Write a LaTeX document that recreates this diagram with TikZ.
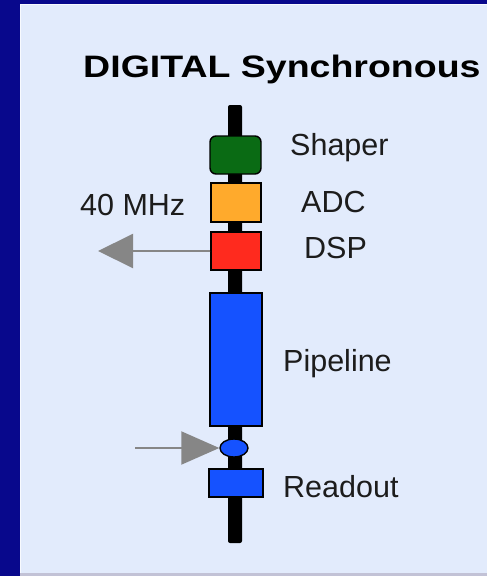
\documentclass[tikz,border=0pt]{standalone}
\usepackage{fontspec}
\setmainfont{Liberation Sans}
\usetikzlibrary{arrows.meta,shapes.geometric}
\definecolor{slideblue}{HTML}{08088C}
\definecolor{panelbg}{HTML}{E2EBFC}
\definecolor{shapergreen}{HTML}{0A6B14}
\definecolor{adcorange}{HTML}{FFAA2C}
\definecolor{dspred}{HTML}{FF2A1E}
\definecolor{pipeblue}{HTML}{1552FF}
\definecolor{labelgrey}{HTML}{1C1C1C}
\tikzset{
  stage/.style={draw=black,line width=1.4pt,inner sep=0pt},
  label/.style={font=\fontsize{30.5}{34}\selectfont,text=labelgrey,anchor=base west,inner sep=0pt},
  flow/.style={draw=gray!95,line width=2pt}
}
\begin{document}
\begin{tikzpicture}[x=1pt,y=-1pt]
\useasboundingbox (0,0) rectangle (487,576);
% slide background and panel
\fill[slideblue] (0,0) rectangle (487,576);
\fill[panelbg] (20,4) rectangle (487,573);
\draw[white!75!panelbg,line width=1pt] (20.5,576) -- (20.5,4.5) -- (487,4.5);
\fill[gray!80!blue!40] (20,573) rectangle (487,576);
% title
\node[font=\bfseries\fontsize{31}{34}\selectfont,anchor=base west,inner sep=0pt,
      xscale=1.21,transform shape] (title) at (83,77) {DIGITAL Synchronous};
% spine behind the stages
\fill[black,rounded corners=2pt] (228,105) rectangle (242,543);
% stages along the chain
\node[stage,fill=shapergreen,rounded corners=6pt,minimum width=51pt,minimum height=38pt] (shaper) at (235.5,155) {};
\node[stage,fill=adcorange,minimum width=50pt,minimum height=39pt] (adc) at (236,202.5) {};
\node[stage,fill=dspred,minimum width=50pt,minimum height=38pt] (dsp) at (236,251) {};
\node[stage,fill=pipeblue,minimum width=52pt,minimum height=133pt] (pipe) at (236,359.5) {};
\node[stage,fill=pipeblue,ellipse,minimum width=28pt,minimum height=18pt] (trig) at (234,448) {};
\node[stage,fill=pipeblue,minimum width=54pt,minimum height=28pt] (readout) at (236,483) {};
% labels
\node[label] (shaperlbl) at (290,155) {Shaper};
\node[label] (adclbl) at (301,212) {ADC};
\node[label] (dsplbl) at (304,258) {DSP};
\node[label] (pipelbl) at (283,371) {Pipeline};
\node[label] (readoutlbl) at (283,497) {Readout};
\node[label] (clocklbl) at (80,215) {40 MHz};
% DSP output and trigger input
\coordinate (dspout) at (98,251);
\coordinate (trigin) at (135,448);
\draw[flow,-{Triangle[length=35pt,width=34pt]},fill=gray!95] (dsp.west) -- (dspout);
\draw[flow,-{Triangle[length=38pt,width=33pt]},fill=gray!95] (trigin) -- (trig.west);
\end{tikzpicture}
\end{document}
